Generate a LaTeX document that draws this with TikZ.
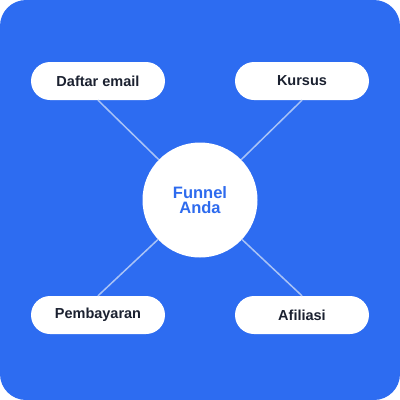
\documentclass[tikz,border=0pt]{standalone}
\usepackage{fontspec}
\setmainfont{Liberation Sans}
\definecolor{bg}{HTML}{2D6CF1}
\definecolor{ctext}{HTML}{2E6BEE}
\definecolor{dark}{HTML}{1B2130}
\definecolor{link}{HTML}{A9C3F6}
\begin{document}
\begin{tikzpicture}[x=1pt,y=-1pt,
  pill/.style={draw=none,fill=white,rounded corners=19pt,minimum width=134pt,minimum height=38pt,inner sep=0pt,
    font=\fontsize{14.5}{16}\selectfont\bfseries,text=dark},
  hub/.style={circle,fill=white,minimum size=115pt,inner sep=0pt,align=center,
    font=\fontsize{16.5}{15.8}\selectfont\bfseries,text=ctext},
  link/.style={draw=link,line width=1.5pt}]
\useasboundingbox (0,0) rectangle (400,400);
\fill[bg,rounded corners=26pt] (0,0) rectangle (400,400);
\node[hub] (c) at (200,200) {Funnel\\Anda};
\node[pill] (d) at (98,81) {Daftar email};
\node[pill] (k) at (302,81) {Kursus};
\node[pill] (p) at (98,315) {Pembayaran};
\node[pill] (a) at (302,315) {Afiliasi};
\draw[link] (d.south) -- (c);
\draw[link] (k.south) -- (c);
\draw[link] (p.north) -- (c);
\draw[link] (a.north) -- (c);
\end{tikzpicture}
\end{document}
